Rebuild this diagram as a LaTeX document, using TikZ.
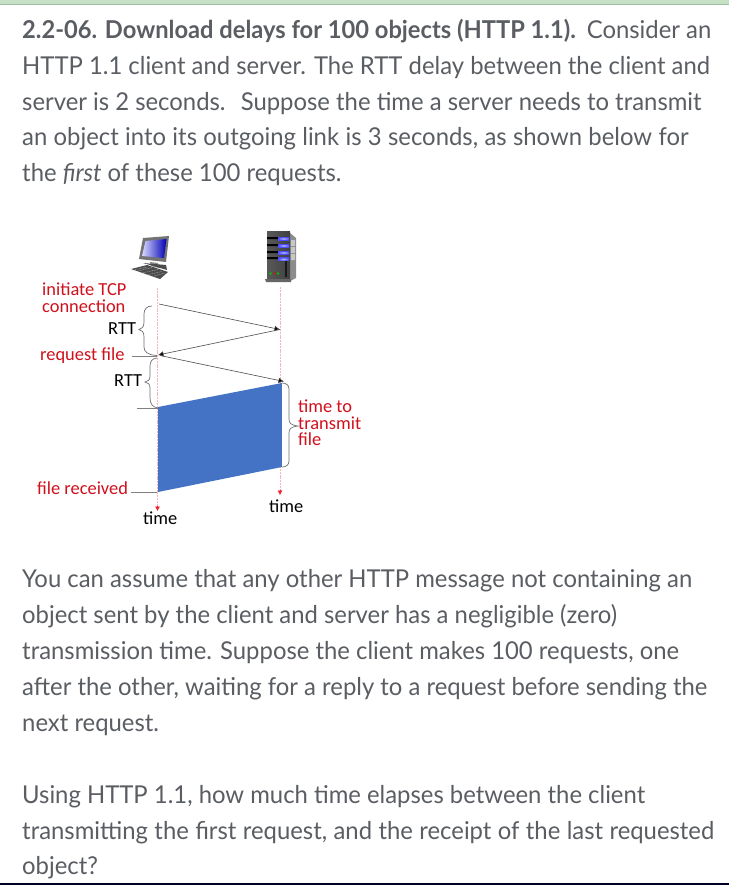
\documentclass[tikz,border=0pt]{standalone}
\usepackage{fontspec}
\setmainfont[FakeStretch=0.97,BoldFeatures={FakeStretch=0.963}]{Lato}
\newfontfamily\labfont{Carlito}
\usetikzlibrary{arrows.meta}
\newcommand\wordgap[1]{\spaceskip=\dimexpr\fontdimen2\font+#1\relax}
\definecolor{bodytext}{HTML}{5A5E63}
\definecolor{labred}{HTML}{D0101C}
\definecolor{blockblue}{HTML}{4472C4}
\definecolor{bandgreen}{HTML}{C6E0C6}
\definecolor{bandline}{HTML}{9DBFA5}
\definecolor{bracegrey}{HTML}{707070}
\definecolor{lifepink}{HTML}{F7B4BA}
\definecolor{tipred}{HTML}{F0202C}
\tikzset{
  body/.style={anchor=base west,inner sep=0pt,text=bodytext,font=\fontsize{24.6}{28}\selectfont},
  lab/.style={anchor=base west,inner sep=0pt,font=\labfont\fontsize{18.4}{20}\selectfont},
  labr/.style={lab,text=labred},
  lifeline/.style={draw=lifepink,line width=0.8pt,dash pattern=on 2pt off 0.8pt},
  timetip/.style={-{Latex[length=4.5pt,width=5pt,fill=tipred]},draw=tipred,line width=0.5pt},
  msg/.style={draw=black!70,line width=0.6pt,-{Latex[length=5.5pt,width=5.5pt,fill=black]}},
  tick/.style={draw=black!50,line width=0.7pt},
  bracep/.style={draw=bracegrey,line width=0.7pt}
}
\begin{document}
\begin{tikzpicture}[x=1pt,y=-1pt]
\useasboundingbox (0,0) rectangle (729,885);
\fill[white] (0,0) rectangle (729,885);
\fill[bandgreen] (0,0) rectangle (729,4);
\fill[bandline] (0,4) rectangle (729,5.5);
\fill[black!85!blue] (0,883) rectangle (729,885);

% text
\node[body] (t1) at (22,39) {\textbf{2.2-06. Download delays for 100 objects (HTTP 1.1).}\hspace{3pt} Consider an};
\node[body] (t2) at (22,75) {HTTP 1.1 client and server. The RTT delay between the client and};
\node[body] (t3) at (22,111) {server is 2 seconds.\ \ \hspace{3pt}Suppose the time a server needs to transmit};
\node[body] (t4) at (22,146) {\wordgap{0.23pt}an object into its outgoing link is 3 seconds, as shown below for};
\node[body] (t5) at (22,182) {the \textit{first} of these 100 requests.};
\node[body] (t6) at (22,587) {You can assume that any other HTTP message not containing an};
\node[body] (t7) at (22,623) {object sent by the client and server has a negligible (zero)};
\node[body] (t8) at (22,659) {transmission time. Suppose the client makes 100 requests, one};
\node[body] (t9) at (22,695) {after the other, waiting for a reply to a request before sending the};
\node[body] (t10) at (22,731) {next request.};
\node[body] (t11) at (22,803) {Using HTTP 1.1, how much time elapses between the client};
\node[body] (t12) at (22,839) {\wordgap{0.27pt}transmitting the first request, and the receipt of the last requested};
\node[body] (t13) at (22,874.5) {object?};

% anchors
\coordinate (ctop) at (157.5,288);
\coordinate (cbot) at (157.5,511);
\coordinate (stop) at (280,287);
\coordinate (sbot) at (280,495);
\coordinate (c1) at (159,304);
\coordinate (s1) at (280,329.5);
\coordinate (c2) at (158,355);
\coordinate (c3) at (160,355.5);
\coordinate (s2) at (284,381.5);
\coordinate (ptl) at (158,407);
\coordinate (ptr) at (282,383);
\coordinate (pbr) at (282,467);
\coordinate (pbl) at (158,492);

% lifelines
\draw[lifeline] (ctop) -- (157.5,506);
\draw[lifeline] (stop) -- (280,490);
\draw[timetip] (157.5,506) -- (cbot);
\draw[timetip] (280,490) -- (sbot);

% file block
\fill[blockblue] (ptl) -- (ptr) -- (pbr) -- (pbl) -- cycle;

% messages
\draw[msg] (c1) -- (s1);
\draw[msg] (s1) -- (c2);
\draw[msg] (c3) -- (s2);

% ticks
\coordinate (rq) at (132,356.5);
\coordinate (rqe) at (157,356.5);
\coordinate (rt) at (137,408);
\coordinate (rte) at (158,408);
\coordinate (fr) at (131,492.5);
\coordinate (fre) at (157,492.5);
\draw[tick] (rq) -- (rqe);
\draw[tick] (rt) -- (rte);
\draw[tick] (fr) -- (fre);

% braces
\draw[bracep] (152,306) .. controls (147,306) and (144,309) .. (144,314) -- (144,322) .. controls (144,327) and (142,329) .. (139,329.5)
  .. controls (142,330) and (144,332) .. (144,337) -- (144,347) .. controls (144,352) and (148,355) .. (157,355.5);
\draw[bracep] (157,358) .. controls (152.5,358.5) and (150,361) .. (150,366) -- (150,376) .. controls (150,380) and (148,381.5) .. (145,382)
  .. controls (148,382.5) and (150,384) .. (150,388) -- (150,398) .. controls (150,404) and (153,407.5) .. (158,408);
\draw[bracep,fill=white] (282,383) .. controls (286,383) and (289,385) .. (289,389) -- (289,419) .. controls (289,423.5) and (291,425) .. (298,426)
  .. controls (291,427) and (289,428.5) .. (289,433) -- (289,461) .. controls (289,465) and (286,467) .. (282,467);

% labels
\node[labr] (li1) at (42,295) {initiate TCP};
\node[labr] (li2) at (42,312) {connection};
\node[lab] (lr1) at (108,334) {RTT};
\node[labr] (lrq) at (40,360) {request file};
\node[lab] (lr2) at (114,386) {RTT};
\node[labr] (lfr) at (37,494) {file received};
\node[lab] (lt1) at (143,524) {time};
\node[labr] (ltt1) at (298,412) {time to};
\node[labr] (ltt2) at (298,429) {transmit};
\node[labr] (ltt3) at (298,445) {file};
\node[lab] (lt2) at (269,512) {time};

% client icon
\fill[black!45] (150,262) -- (158,263) -- (159,268) -- (151,266) -- cycle;
\fill[black!70] (143,263) -- (166,265) -- (167,270) -- (160,268) -- (150,265) -- cycle;
\fill[black!55] (143,238) -- (169,236) -- (166,262) -- (139,259) -- cycle;
\shade[shading angle=60,left color=white!85!blue,right color=blue!70!black] (145.5,241) -- (166.5,239) -- (164,258) -- (142,256) -- cycle;
\fill[black!70] (131,269) -- (147,265) -- (168,272) -- (160,279) -- cycle;
\draw[white!70!black,line width=0.4pt,dash pattern=on 1pt off 0.7pt] (135,269.5) -- (147,267) (138,271) -- (152,267.5) (142,273) -- (158,269.5) (147,275) -- (162,271.5) (152,276.5) -- (165,273);

% server icon
\fill[black!45] (290,233) -- (296,238) -- (296,278) -- (290,281) -- cycle;
\fill[black!22] (291,240) rectangle (295,246) (291,247) rectangle (295,253) (291,254) rectangle (295,260);
\shade[left color=black!65,right color=black!75] (267,232) rectangle (290,280);
\fill[black!60] (265,279) -- (291,279) -- (291,282) -- (266,282) -- cycle;
\fill[black] (267,237) rectangle (279,239) (267,244) rectangle (279,246) (267,251) rectangle (279,253) (267,257) rectangle (279,259);
\shade[inner color=blue!25!white,outer color=blue!70!white] (278,237) rectangle (289,240);
\shade[inner color=blue!25!white,outer color=blue!70!white] (278,244) rectangle (289,247);
\shade[inner color=blue!25!white,outer color=blue!70!white] (278,251) rectangle (289,254);
\shade[inner color=blue!25!white,outer color=blue!70!white] (278,257.5) rectangle (289,260.5);
\fill[black!90] (285,261) rectangle (287,277);
\fill[green!75!black] (270.5,273.5) circle (1.4);
\fill[red] (274.5,273.5) circle (1.2);
\fill[green!75!black] (278,273.5) circle (1.4);
\end{tikzpicture}
\end{document}
